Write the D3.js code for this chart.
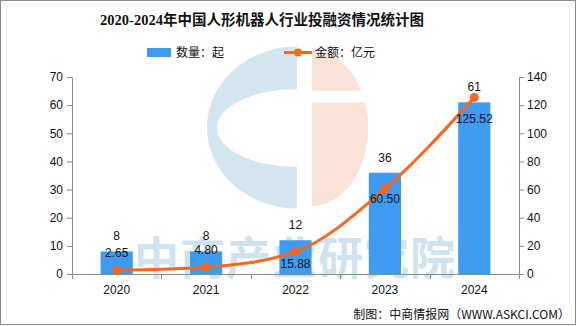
<!DOCTYPE html>
<html>
<head>
<meta charset="utf-8">
<script src="https://cdnjs.cloudflare.com/ajax/libs/d3/7.8.5/d3.min.js"></script>
<style>
  body { margin: 0; background: #fff; }
  text { font-family: "Liberation Sans", "Noto Sans CJK SC", sans-serif; font-size: 12px; fill: #111; }
  .cjk { font-family: "Noto Sans CJK SC", sans-serif; }
  .axis path, .axis line { stroke: #8a8a8a; }
</style>
</head>
<body>
<div id="chart"></div>
<script>
    // 中国人形机器人行业投融资：事件数（起）与金额（亿元）
    var years = ["2020", "2021", "2022", "2023", "2024"];
    var counts = [8, 8, 12, 36, 61];
    var amounts = [2.65, 4.80, 15.88, 60.50, 125.52];
    var countTicks = [0, 10, 20, 30, 40, 50, 60, 70];
    var amountTicks = [0, 20, 40, 60, 80, 100, 120, 140];

    var W = 576, H = 326,
        plotLeft = 72, plotRight = 519, plotTop = 77, plotBottom = 274;

    var barColor = "#3d9cf2",
        lineColor = "#fa661e";

    // hand-placed offsets of the amount labels (from the point)
    var amountLabelDy = [-13, -13, 16, 14, 26];

    var svg = d3.select("#chart").append("svg")
        .attr("width", W)
        .attr("height", H);

    // frame
    svg.append("rect")
        .attr("x", 0.5).attr("y", 0.5)
        .attr("width", W - 1).attr("height", H - 2)
        .attr("fill", "#fff")
        .attr("stroke", "#8c8c8c");

    // watermark logo
    var logo = svg.append("g");
    logo.append("path")
        .attr("d", "M297,46.5 A90,81 0 0 0 297,208.5 L297,167 A80,39 0 0 1 297,89 Z")
        .attr("fill", "#d3e5ef");
    logo.append("path")
        .attr("d", "M312,50 A56,78 0 0 1 312,206 Z")
        .attr("fill", "#fbe2d7");
    logo.append("rect")
        .attr("x", 311).attr("y", 90.7)
        .attr("width", 60).attr("height", 12)
        .attr("fill", "#fff");

    svg.append("text")
        .attr("class", "cjk")
        .attr("x", 295).attr("y", 275)
        .attr("text-anchor", "middle")
        .style("font-size", "45px")
        .style("font-weight", "bold")
        .style("letter-spacing", "1px")
        .style("fill", "#cfe2ef")
        .text("中商产业研究院");

    // title
    svg.append("text")
        .attr("x", 262).attr("y", 25)
        .attr("text-anchor", "middle")
        .style("font-family", "'Liberation Serif', 'Noto Sans CJK SC', serif")
        .style("font-size", "14.5px")
        .style("font-weight", "bold")
        .text("2020-2024年中国人形机器人行业投融资情况统计图");

    // legend
    var legend = svg.append("g");
    legend.append("rect")
        .attr("x", 147).attr("y", 48)
        .attr("width", 24).attr("height", 9)
        .attr("fill", barColor);
    legend.append("text")
        .attr("class", "cjk")
        .attr("x", 176).attr("y", 57)
        .text("数量：起");
    legend.append("line")
        .attr("x1", 284).attr("x2", 312)
        .attr("y1", 52.5).attr("y2", 52.5)
        .attr("stroke", lineColor)
        .attr("stroke-width", 3);
    legend.append("circle")
        .attr("cx", 298).attr("cy", 52.5).attr("r", 4)
        .attr("fill", lineColor);
    legend.append("text")
        .attr("class", "cjk")
        .attr("x", 315).attr("y", 57)
        .text("金额：亿元");

    // scales
    var x = d3.scaleBand()
        .domain(years)
        .range([plotLeft, plotRight]);

    var yCount = d3.scaleLinear()
        .domain([0, 70])
        .range([plotBottom, plotTop]);

    var yAmount = d3.scaleLinear()
        .domain([0, 140])
        .range([plotBottom, plotTop]);

    var barW = x.step() * 0.36;

    // bars
    svg.append("g").selectAll("rect")
        .data(counts)
        .enter().append("rect")
        .attr("x", function(d, i) { return x(years[i]) + (x.step() - barW) / 2; })
        .attr("y", function(d) { return yCount(d); })
        .attr("width", barW)
        .attr("height", function(d) { return plotBottom - yCount(d); })
        .attr("fill", barColor);

    // axes
    svg.append("g")
        .attr("class", "axis")
        .attr("transform", "translate(" + plotLeft + ",0)")
        .call(d3.axisLeft(yCount).tickValues(countTicks).tickSize(5).tickSizeOuter(0).tickPadding(4))
        .call(function(g) { g.selectAll("text").style("font-size", "12px").style("fill", "#111"); });

    svg.append("g")
        .attr("class", "axis")
        .attr("transform", "translate(" + plotRight + ",0)")
        .call(d3.axisRight(yAmount).tickValues(amountTicks).tickSize(5).tickSizeOuter(0).tickPadding(3))
        .call(function(g) { g.selectAll("text").style("font-size", "12px").style("fill", "#111"); });

    var xAxis = svg.append("g")
        .attr("class", "axis")
        .attr("transform", "translate(0," + plotBottom + ")")
        .call(d3.axisBottom(x).tickSize(0).tickSizeOuter(0).tickPadding(11))
        .call(function(g) { g.selectAll("text").style("font-size", "12px").style("fill", "#111"); });

    // category boundary ticks
    xAxis.selectAll(".bound")
        .data(years.concat(["end"]))
        .enter().append("line")
        .attr("class", "bound")
        .attr("x1", function(d, i) { return Math.round(plotLeft + i * x.step()) + 0.5; })
        .attr("x2", function(d, i) { return Math.round(plotLeft + i * x.step()) + 0.5; })
        .attr("y1", 0).attr("y2", 5);

    // amount line
    var cx = function(d, i) { return x(years[i]) + x.step() / 2; };

    var line = d3.line()
        .x(cx)
        .y(function(d) { return yAmount(d); })
        .curve(d3.curveMonotoneX);

    svg.append("path")
        .datum(amounts)
        .attr("d", line)
        .attr("fill", "none")
        .attr("stroke", lineColor)
        .attr("stroke-width", 3);

    svg.append("g").selectAll("circle")
        .data(amounts)
        .enter().append("circle")
        .attr("cx", cx)
        .attr("cy", function(d) { return yAmount(d); })
        .attr("r", 4.5)
        .attr("fill", lineColor);

    // labels
    svg.append("g").selectAll("text")
        .data(counts)
        .enter().append("text")
        .attr("x", cx)
        .attr("y", function(d) { return yCount(d) - 11; })
        .attr("text-anchor", "middle")
        .text(function(d) { return d; });

    svg.append("g").selectAll("text")
        .data(amounts)
        .enter().append("text")
        .attr("x", cx)
        .attr("y", function(d, i) { return yAmount(d) + amountLabelDy[i]; })
        .attr("text-anchor", "middle")
        .text(function(d) { return d3.format(".2f")(d); });

    // source
    svg.append("text")
        .attr("class", "cjk")
        .attr("x", 570).attr("y", 319)
        .attr("text-anchor", "end")
        .text("制图：中商情报网（WWW.ASKCI.COM）");
</script>
</body>
</html>
